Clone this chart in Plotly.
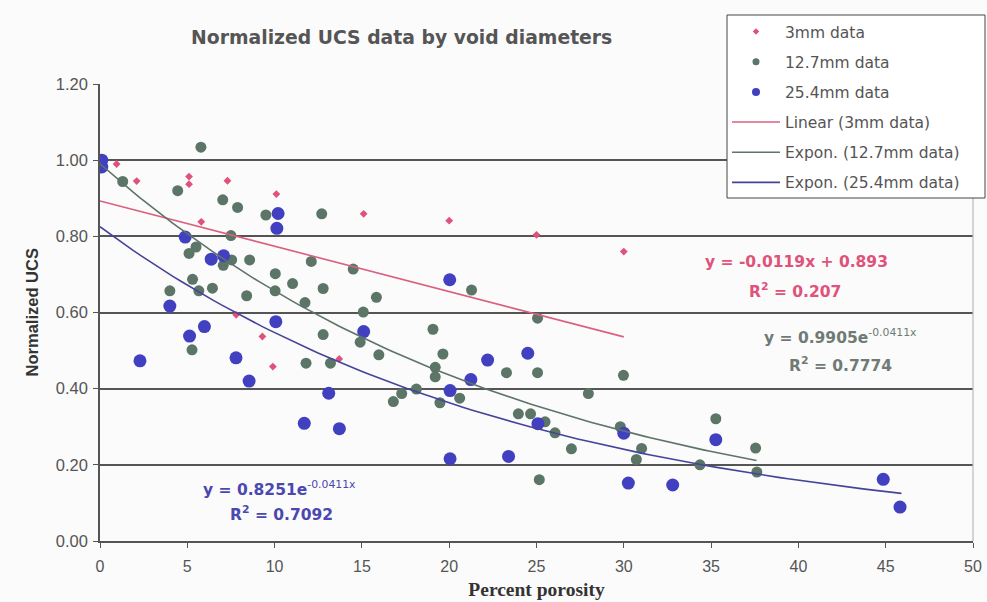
import numpy as np
import plotly.graph_objects as go

# ---- data ----
x_3mm = [0.95, 2.1, 5.1, 5.1, 5.8, 7.3, 7.8, 9.3, 9.9, 10.1, 13.7, 15.1, 20.0, 25.0, 30.0]
y_3mm = [0.99, 0.945, 0.957, 0.937, 0.838, 0.946, 0.594, 0.537, 0.458, 0.911, 0.478, 0.859, 0.841, 0.804, 0.76]

x_127 = [1.3, 4.45, 5.78, 7.03, 7.88, 9.5, 12.7, 7.5, 5.5, 5.1, 7.06, 7.54, 8.57, 10.04, 11.03,
         10.03, 11.74, 12.1, 12.78, 5.3, 4.0, 5.66, 6.44, 8.4, 5.27, 11.8, 12.78, 13.2, 14.5, 15.83,
         15.08, 14.9, 15.97, 21.28, 25.06, 19.07, 19.64, 19.2, 19.2, 23.28, 25.06, 29.98, 27.97, 18.12,
         17.28, 16.8, 19.47, 20.6, 23.96, 24.66, 25.49, 26.06, 27.0, 29.8, 31.02, 30.72, 25.16, 35.27,
         37.55, 37.62, 34.36]
y_127 = [0.944, 0.920, 1.034, 0.896, 0.876, 0.856, 0.859, 0.802, 0.772, 0.755, 0.724, 0.738, 0.738, 0.702, 0.676,
         0.657, 0.626, 0.734, 0.663, 0.687, 0.657, 0.657, 0.664, 0.644, 0.502, 0.467, 0.542, 0.467, 0.714, 0.640,
         0.601, 0.522, 0.489, 0.659, 0.585, 0.556, 0.491, 0.456, 0.431, 0.442, 0.442, 0.435, 0.387, 0.399,
         0.387, 0.366, 0.363, 0.375, 0.334, 0.334, 0.313, 0.284, 0.242, 0.300, 0.243, 0.214, 0.161, 0.321,
         0.244, 0.181, 0.200]

x_254 = [0.1, 0.1, 10.2, 10.13, 4.88, 6.37, 7.08, 4.0, 5.98, 5.13, 10.07, 2.29, 7.79, 8.54, 20.03, 15.1,
         13.1, 22.2, 24.5, 21.24, 20.05, 11.7, 13.71, 20.05, 23.4, 25.08, 30.0, 30.26, 32.8, 35.27, 44.86, 45.82]
y_254 = [1.0, 0.982, 0.860, 0.821, 0.798, 0.740, 0.749, 0.617, 0.563, 0.538, 0.576, 0.473, 0.481, 0.420, 0.686, 0.550,
         0.388, 0.475, 0.493, 0.424, 0.395, 0.309, 0.295, 0.216, 0.222, 0.308, 0.283, 0.152, 0.147, 0.266, 0.162, 0.089]

# trendline coefficients (from the chart's equations)
lin_slope, lin_icpt, lin_xmax = -0.0119, 0.893, 30.0
exp127_a, exp127_b, exp127_xmax = 0.9905, -0.0411, 37.6
exp254_a, exp254_b, exp254_xmax = 0.8251, -0.0411, 45.9

x_ticks = [0, 5, 10, 15, 20, 25, 30, 35, 40, 45, 50]
y_ticks = [0.0, 0.2, 0.4, 0.6, 0.8, 1.0, 1.2]

PINK = "#e0527a"
GREEN = "#5b7566"
BLUE = "#4040c0"
PINK_L = "#d9607f"
GREEN_L = "#5e7468"
BLUE_L = "#45449a"
TXT = "#555555"
FONT = "Liberation Sans, Arial, sans-serif"
WIDE = "DejaVu Sans, Verdana, sans-serif"

fig = go.Figure()

# data traces (legend handled by proxies with small symbols, as in the reference)
fig.add_trace(go.Scatter(x=x_3mm, y=y_3mm, mode="markers", name="3mm data", showlegend=False,
                         marker=dict(symbol="diamond", size=6, color=PINK)))
fig.add_trace(go.Scatter(x=x_127, y=y_127, mode="markers", name="12.7mm data", showlegend=False,
                         marker=dict(symbol="circle", size=11, color=GREEN)))
fig.add_trace(go.Scatter(x=x_254, y=y_254, mode="markers", name="25.4mm data", showlegend=False,
                         marker=dict(symbol="circle", size=13, color=BLUE)))

xl = np.linspace(0, lin_xmax, 50)
fig.add_trace(go.Scatter(x=xl, y=lin_slope * xl + lin_icpt, mode="lines", showlegend=False,
                         line=dict(color=PINK_L, width=1.6)))
xg = np.linspace(0, exp127_xmax, 100)
fig.add_trace(go.Scatter(x=xg, y=exp127_a * np.exp(exp127_b * xg), mode="lines", showlegend=False,
                         line=dict(color=GREEN_L, width=1.6)))
xb = np.linspace(0, exp254_xmax, 100)
fig.add_trace(go.Scatter(x=xb, y=exp254_a * np.exp(exp254_b * xb), mode="lines", showlegend=False,
                         line=dict(color=BLUE_L, width=1.6)))

# legend proxies
legend_items = [
    ("3mm data", "markers", dict(symbol="diamond", size=5, color=PINK), None),
    ("12.7mm data", "markers", dict(symbol="circle", size=7, color=GREEN), None),
    ("25.4mm data", "markers", dict(symbol="circle", size=8, color=BLUE), None),
    ("Linear (3mm data)", "lines", None, dict(color=PINK_L, width=1.6)),
    ("Expon. (12.7mm data)", "lines", None, dict(color=GREEN_L, width=1.6)),
    ("Expon. (25.4mm data)", "lines", None, dict(color=BLUE_L, width=1.6)),
]
for i, (nm, md, mk, ln) in enumerate(legend_items):
    kw = dict(x=[None], y=[None], mode=md, name=nm, legendgroup=f"g{i}", showlegend=True)
    if mk:
        kw["marker"] = mk
    if ln:
        kw["line"] = ln
    fig.add_trace(go.Scatter(**kw))

ann_font = dict(family=WIDE, size=15.5)
annotations = [
    dict(x=39.9, y=0.733, text="<b>y = -0.0119x + 0.893</b>", font=dict(color=PINK, **ann_font)),
    dict(x=39.8, y=0.659, text="<b>R<sup>2</sup> = 0.207</b>", font=dict(color=PINK, **ann_font)),
    dict(x=42.4, y=0.536, text="<b>y = 0.9905e</b><sup>-0.0411x</sup>", font=dict(color="#707a74", **ann_font)),
    dict(x=42.4, y=0.4636, text="<b>R<sup>2</sup> = 0.7774</b>", font=dict(color="#707a74", **ann_font)),
    dict(x=10.3, y=0.139, text="<b>y = 0.8251e</b><sup>-0.0411x</sup>", font=dict(color="#4a48b0", **ann_font)),
    dict(x=10.37, y=0.0735, text="<b>R<sup>2</sup> = 0.7092</b>", font=dict(color="#4a48b0", **ann_font)),
]
for a in annotations:
    a.update(xref="x", yref="y", showarrow=False, xanchor="center", yanchor="middle")

# y-axis title placed as a paper annotation
annotations.append(dict(xref="paper", yref="paper", x=-0.078, y=0.5, xanchor="center",
                        yanchor="middle", textangle=-90, showarrow=False,
                        text="<b>Normalized UCS</b>",
                        font=dict(size=16.5, color="#333333", family=FONT)))

# plot area geometry (pixels) used to place the legend frame
L, R, T, B = 100, 973, 84, 541
PW, PH = R - L, B - T
leg_x0 = (727 - L) / PW
leg_x1 = (985 - L) / PW
leg_y0 = (B - 198) / PH
leg_y1 = (B - 15) / PH

fig.update_layout(
    template="none",
    width=987, height=602,
    margin=dict(l=L, r=987 - R, t=T, b=602 - B),
    paper_bgcolor="#fbfbfb", plot_bgcolor="#fbfbfb",
    font=dict(family=FONT, color=TXT, size=13),
    title=dict(text="<b>Normalized UCS data by void diameters</b>", x=0.407, xanchor="center",
               y=0.938, yanchor="middle", font=dict(size=18.8, color="#555555", family=WIDE)),
    showlegend=True,
    legend=dict(x=leg_x0, y=leg_y1, xanchor="left", yanchor="top",
                bgcolor="rgba(0,0,0,0)", borderwidth=0,
                font=dict(size=15.5, color="#555555", family=WIDE),
                traceorder="grouped", tracegroupgap=7, itemwidth=48),
    annotations=annotations,
    xaxis=dict(range=[0, 50], tickvals=x_ticks, ticktext=[str(v) for v in x_ticks],
               automargin=False,
               showgrid=False, zeroline=False, showline=True, linecolor="#555555", linewidth=1.5,
               ticks="outside", ticklen=5, tickcolor="#555555", ticklabelstandoff=5,
               tickfont=dict(size=16, color=TXT, family=FONT),
               title=dict(text="<b>Percent porosity</b>", standoff=8,
                          font=dict(size=19.5, family="Liberation Serif, Times New Roman, serif",
                                    color="#333333"))),
    yaxis=dict(range=[0, 1.2], tickvals=y_ticks, ticktext=[f"{v:.2f}" for v in y_ticks],
               automargin=False,
               showgrid=True, gridcolor="#555555", gridwidth=1.5, zeroline=False,
               showline=True, linecolor="#555555", linewidth=1.5,
               ticks="outside", ticklen=5, tickcolor="#555555", ticklabelstandoff=2,
               tickfont=dict(size=16.5, color=TXT, family=FONT)),
    shapes=[
        dict(type="line", xref="paper", yref="paper", x0=1, x1=1, y0=0, y1=1,
             line=dict(color="#bbbbbb", width=1.2)),
        dict(type="rect", xref="paper", yref="paper", x0=leg_x0, x1=leg_x1, y0=leg_y0, y1=leg_y1,
             fillcolor="#ffffff", line=dict(color="#444444", width=1), layer="above"),
    ],
)

fig.write_html("out.html")
